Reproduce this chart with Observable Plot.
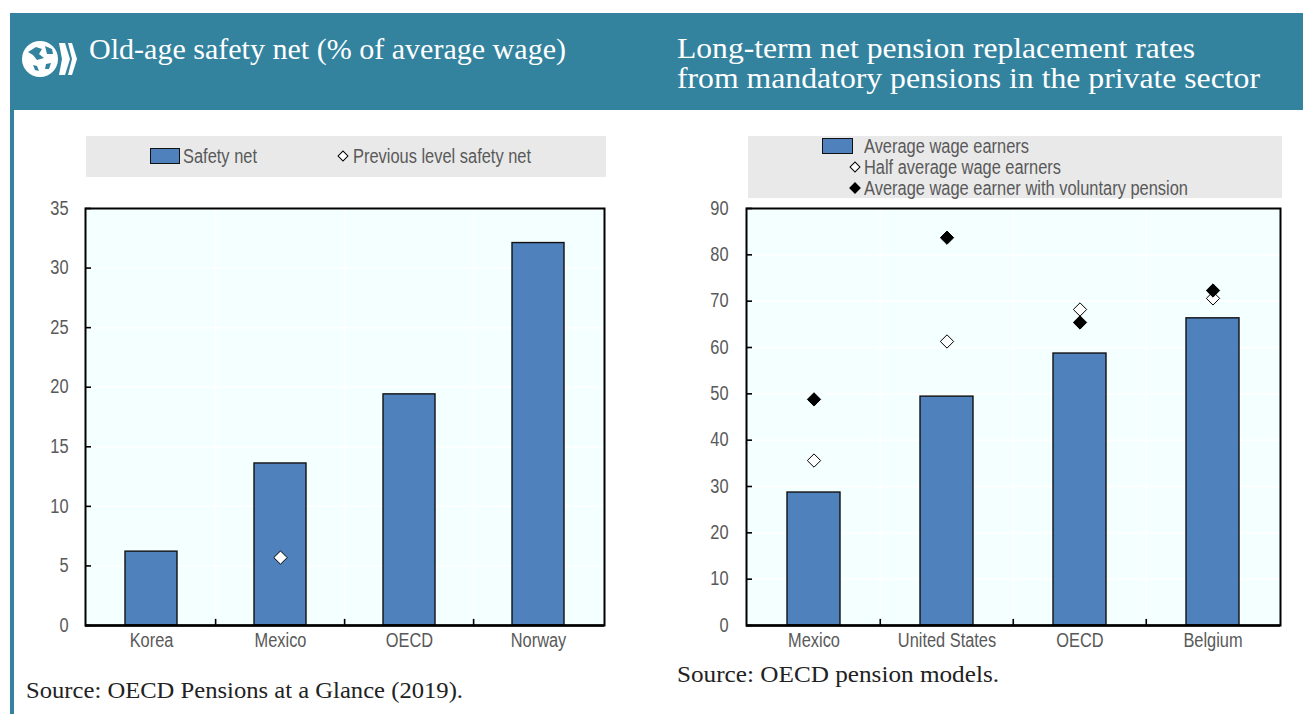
<!DOCTYPE html>
<html><head><meta charset="utf-8">
<script src="https://cdn.jsdelivr.net/npm/d3@7"></script>
<script src="https://cdn.jsdelivr.net/npm/@observablehq/plot@0.6"></script>
<style>
html,body{margin:0;padding:0;background:#fff;width:1303px;height:714px;overflow:hidden;position:relative}
.abs{position:absolute}
.band{background:#33839f}
.ttl{position:absolute;color:#fff;font-family:"Liberation Serif";font-size:29px;white-space:pre;line-height:30px;transform-origin:0 50%}
.src{position:absolute;color:#222;font-family:"Liberation Serif";font-size:23px;white-space:pre;transform-origin:0 50%}
.leg{position:absolute;color:#595959;font-family:"Liberation Sans",Arial;font-size:19.5px;white-space:pre;line-height:20px;transform-origin:0 50%}
.box{position:absolute;background:#e9e9e9}
.swatch{position:absolute;background:#4f81bd;border:1.5px solid #111;box-sizing:border-box}
.dia{position:absolute;width:8px;height:8px;border:1.2px solid #000;box-sizing:border-box;transform:rotate(45deg)}
svg.chart{position:absolute}
</style></head><body>
<script>
const leftCategories = ["Korea","Mexico","OECD","Norway"];
const safetyNet = [6.2,13.6,19.4,32.1];
const previousLevel = [null,5.7,null,null];
const leftTicks = [0,5,10,15,20,25,30,35];

const rightCategories = ["Mexico","United States","OECD","Belgium"];
const averageWage = [28.7,49.4,58.7,66.3];
const halfAverage = [35.6,61.3,68.2,70.6];
const voluntary = [48.8,83.7,65.4,72.3];
const rightTicks = [0,10,20,30,40,50,60,70,80,90];

const BLUE="#4f81bd", PLOTBG="#f4ffff", GREY="#595959";

function el(cls,css,text){
  const d=document.createElement("div");
  d.className=cls; Object.assign(d.style,css);
  if(text!=null) d.textContent=text;
  document.body.appendChild(d); return d;
}
// place text and squeeze it horizontally to a given width
function fit(d,w){ const r=d.getBoundingClientRect().width; d.style.transform=`scaleX(${w/r})`; }

function chart(cats,bars,diamonds,yTicks,yMax,left,width,ml,mr,tickPad){
  const rows=cats.map((c,i)=>({c,v:bars[i]}));
  const step=(width-ml-mr)/cats.length;
  const tickShape={draw(ctx,l){ctx.moveTo(0,0);ctx.lineTo(0,-l);}};
  const marks=[
    Plot.frame({fill:PLOTBG,stroke:null}),
    Plot.ruleY(yTicks,{stroke:"#fff",strokeWidth:1.5}),
    Plot.ruleX(cats.slice(1),{x:d=>d,dx:-step/2,stroke:"#fff",strokeWidth:1.5}),
    Plot.barY(rows,{x:"c",y:"v",fill:BLUE,stroke:"#111",strokeWidth:1.4}),
    ...diamonds.map(s=>Plot.dot(cats.map((c,i)=>({c,v:s.values[i]})).filter(d=>d.v!=null),
      {x:"c",y:"v",symbol:"diamond2",r:6,fill:s.fill,stroke:"#000",strokeWidth:1})),
    Plot.vectorX(cats.slice(1),{x:d=>d,dx:-step/2,frameAnchor:"bottom",length:6,anchor:"start",shape:tickShape,stroke:"#000",strokeWidth:1.6}),
    Plot.axisY(yTicks,{tickSize:-6,fill:"none",stroke:"#000",strokeWidth:1.6,tickFormat:()=>""}),
    Plot.axisY(yTicks,{tickSize:0,tickPadding:tickPad,fill:GREY}),
    Plot.axisX(cats,{tickSize:0,tickPadding:8,fill:GREY}),
    Plot.ruleY([0],{stroke:"#000",strokeWidth:2.5}),
    Plot.frame({stroke:"#000",strokeWidth:2})
  ];
  const svg=Plot.plot({
    width,height:480,marginTop:28,marginBottom:35,marginLeft:ml,marginRight:mr,
    x:{domain:cats,paddingInner:0.6,paddingOuter:0.3,label:null},
    y:{domain:[0,yMax],label:null},
    style:{fontFamily:'"Liberation Sans",Arial',fontSize:"19.5px",color:GREY,background:"transparent"},
    marks
  });
  svg.classList.add("chart");
  svg.style.left=left+"px"; svg.style.top="180px";
  document.body.appendChild(svg);
  svg.querySelectorAll("text").forEach(t=>{
    const spans=t.querySelectorAll("tspan");
    const n=spans.length?spans:[t];
    n.forEach(s=>{
      const l=s.getComputedTextLength();
      if(l>0){s.setAttribute("textLength",l*0.84);s.setAttribute("lengthAdjust","spacingAndGlyphs");}
    });
  });
  return svg;
}

// page furniture
el("abs band",{left:"10px",top:"13px",width:"1293px",height:"97px"});
el("abs band",{left:"10px",top:"110px",width:"4px",height:"604px"});

const logo=document.createElementNS("http://www.w3.org/2000/svg","svg");
logo.setAttribute("width","70");logo.setAttribute("height","50");
logo.style.cssText="position:absolute;left:16px;top:35px";
logo.innerHTML=`<circle cx="24" cy="24" r="18" fill="#fff"/>
<path d="M12 17 l8 -5 l6 2 l-3 5 l5 4 l-7 2 l-4 -5 z M29 11 l7 3 l1 5 l-6 0 z M17 30 l4 1 l2 5 l-4 -1 z M30 29 l5 -1 l-2 6 l-4 0z" fill="#33839f"/>
<path d="M43 8 l6 0 l5 16 l-5 16 l-6 0 l3 -16 z M52 8 l4 0 l5 16 l-5 16 l-4 0 l4 -16 z" fill="#fff"/>`;
document.body.appendChild(logo);

fit(el("ttl",{left:"89px",top:"34px"},"Old-age safety net (% of average wage)"),477);
fit(el("ttl",{left:"677px",top:"33px"},"Long-term net pension replacement rates"),518);
fit(el("ttl",{left:"677px",top:"63px"},"from mandatory pensions in the private sector"),583);

// left legend
el("box",{left:"86px",top:"136px",width:"520px",height:"41px"});
el("swatch",{left:"150px",top:"148px",width:"30px",height:"16px"});
fit(el("leg",{left:"183px",top:"146px"},"Safety net"),74);
el("dia",{left:"339px",top:"152px",background:"#fff"});
fit(el("leg",{left:"353px",top:"146px"},"Previous level safety net"),178);

// right legend
el("box",{left:"748px",top:"136px",width:"534px",height:"62px"});
el("swatch",{left:"822px",top:"138px",width:"31px",height:"16px"});
fit(el("leg",{left:"864px",top:"136px"},"Average wage earners"),165);
el("dia",{left:"851px",top:"163px",background:"#fff"});
fit(el("leg",{left:"864px",top:"157px"},"Half average wage earners"),197);
el("dia",{left:"851px",top:"184px",background:"#000"});
fit(el("leg",{left:"864px",top:"178px"},"Average wage earner with voluntary pension"),324);

chart(leftCategories,safetyNet,[{values:previousLevel,fill:"#fff"}],leftTicks,35,0,650,85,46,17);
chart(rightCategories,averageWage,[{values:halfAverage,fill:"#fff"},{values:voluntary,fill:"#000"}],rightTicks,90,650,653,96,23,18);

fit(el("src",{left:"26px",top:"678px"},"Source: OECD Pensions at a Glance (2019)."),437);
fit(el("src",{left:"677px",top:"662px"},"Source: OECD pension models."),322);
</script>
</body></html>
